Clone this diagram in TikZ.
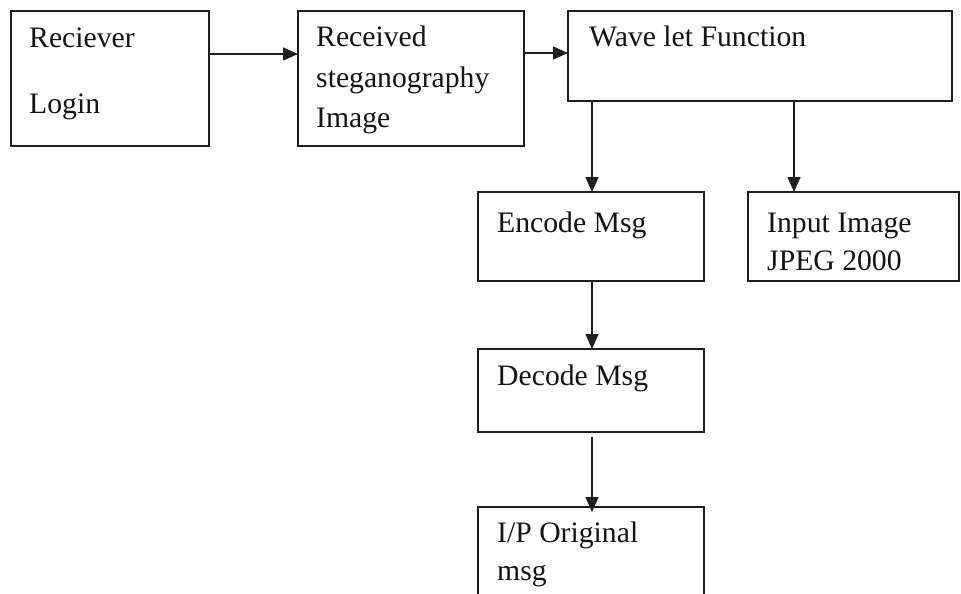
\documentclass[tikz,border=0pt]{standalone}
\usepackage{fontspec}
\setmainfont{Liberation Serif}
\usetikzlibrary{arrows.meta}
\tikzset{
  box/.style={draw=black!88, line width=1.6pt, rectangle, anchor=north west, inner sep=0pt, outer sep=0pt},
  lbl/.style={anchor=base west, inner sep=0pt, text=black!92, font=\fontsize{29.7}{36}\selectfont},
  arr/.style={draw=black!88, line width=1.6pt, -{Triangle[length=15pt,width=13pt]}}
}
\begin{document}
\begin{tikzpicture}[x=1pt,y=-1pt]
\clip (0,0) rectangle (961,594);
\fill[white] (0,0) rectangle (961,594);
% boxes
\node[box, minimum width=198pt, minimum height=135pt] (b1) at (11,11) {};
\node[box, minimum width=226pt, minimum height=135pt] (b2) at (298,11) {};
\node[box, minimum width=384pt, minimum height=90pt] (b3) at (568,11) {};
\node[box, minimum width=226pt, minimum height=89pt] (enc) at (478,192) {};
\node[box, minimum width=211pt, minimum height=89pt] (inp) at (748,192) {};
\node[box, minimum width=226pt, minimum height=83pt] (dec) at (478,349) {};
\node[box, minimum width=226pt, minimum height=100pt] (ip) at (478,507) {};
% texts
\node[lbl] (t1a) at (29,48) {Reciever};
\node[lbl] (t1b) at (29,113) {Login};
\node[lbl] (t2a) at (316,47) {Received};
\node[lbl] (t2b) at (316,88) {steganography};
\node[lbl] (t2c) at (316,127) {Image};
\node[lbl] (t3a) at (589,47) {Wave let Function};
\node[lbl] (t4a) at (497,232) {Encode Msg};
\node[lbl] (t5a) at (767,232) {Input Image};
\node[lbl] (t5b) at (767,270) {JPEG 2000};
\node[lbl] (t6a) at (497,385) {Decode Msg};
\node[lbl] (t7a) at (497,542) {I/P Original};
\node[lbl] (t7b) at (497,580) {msg};
% connectors
\draw[arr] ([yshift=-43pt]b1.north east) -- ([yshift=-43pt]b1.north east -| b2.west);
\draw[arr] ([yshift=-42pt]b2.north east) -- ([yshift=-42pt]b2.north east -| b3.west);
\draw[arr] ([xshift=24pt]b3.south west) -- ([xshift=24pt]b3.south west |- enc.north);
\draw[arr] ([xshift=226pt]b3.south west) -- ([xshift=226pt]b3.south west |- inp.north);
\draw[arr] ([xshift=114pt]enc.south west) -- ([xshift=114pt]enc.south west |- dec.north);
\draw[arr] ([xshift=114pt,yshift=-5pt]dec.south west) -- ([xshift=114pt,yshift=-5pt]dec.south west |- ip.north);
\end{tikzpicture}
\end{document}
